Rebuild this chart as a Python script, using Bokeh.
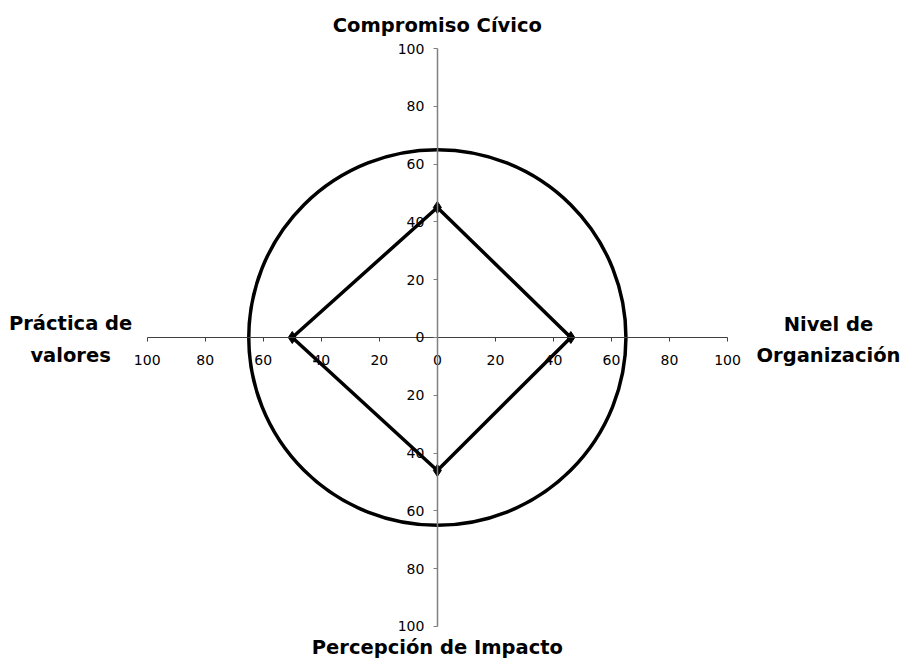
from bokeh.plotting import figure
from bokeh.models import Range1d, LinearAxis, FixedTicker, CustomJSTickFormatter, ColumnDataSource
from bokeh.core.properties import value
from bokeh.embed import file_html
from bokeh.resources import INLINE

# ---- data ----
categories = ["Compromiso Cívico", "Nivel de Organización", "Percepción de Impacto", "Práctica de valores"]
values = [45, 46, 46, 50]
dir_x = [0, 1, 0, -1]
dir_y = [1, 0, -1, 0]
circle_radius = 65
tick_values = [-100, -80, -60, -40, -20, 0, 20, 40, 60, 80, 100]
title_texts = ["Compromiso Cívico", "Nivel de\nOrganización", "Percepción de Impacto", "Práctica de\nvalores"]

px = [v * dx for v, dx in zip(values, dir_x)]
py = [v * dy for v, dy in zip(values, dir_y)]

p = figure(width=901, height=662, output_backend="svg", toolbar_location=None,
           x_range=Range1d(-150.56, 159.97), y_range=Range1d(-112.46, 116.61),
           x_axis_type=None, y_axis_type=None, min_border=0)
p.outline_line_color = None
p.xgrid.visible = False
p.ygrid.visible = False

fmt = CustomJSTickFormatter(code="return Math.abs(tick).toString();")

xax = LinearAxis(fixed_location=0, bounds=(-100, 100), ticker=FixedTicker(ticks=tick_values),
                 formatter=fmt)
xax.axis_line_color = "#404040"
xax.axis_line_width = 1.2
xax.major_tick_line_color = "#404040"
xax.major_tick_in = 0
xax.major_tick_out = 4
xax.minor_tick_line_color = None
xax.major_label_standoff = 14
xax.major_label_text_font = "DejaVu Sans"
xax.major_label_text_font_size = "14px"
xax.major_label_text_color = "black"
p.add_layout(xax, "below")

yax = LinearAxis(fixed_location=0, bounds=(-100, 100), ticker=FixedTicker(ticks=tick_values),
                 formatter=fmt)
yax.axis_line_color = "#808080"
yax.axis_line_width = 1.5
yax.major_tick_line_color = "#808080"
yax.major_tick_in = 0
yax.major_tick_out = 4
yax.minor_tick_line_color = None
yax.major_label_standoff = 9
yax.major_label_text_font = "DejaVu Sans"
yax.major_label_text_font_size = "14px"
yax.major_label_text_color = "black"
p.add_layout(yax, "left")

# reference circle
p.ellipse(x=0, y=0, width=2 * circle_radius, height=2 * circle_radius,
          fill_color=None, line_color="black", line_width=3.5)

# diamond polygon
p.line(x=px + [px[0]], y=py + [py[0]], line_color="black", line_width=3.5)
p.scatter(x=px, y=py, marker="diamond", size=12, fill_color="black", line_color="black")

# axis titles
src = ColumnDataSource(dict(
    x=[0, 134.8, 0, -126.4],
    y=[108, -1, -107.3, -0.7],
    t=title_texts,
))
p.text(x="x", y="y", text="t", source=src, text_align="center", text_baseline="middle",
       text_font=value("DejaVu Sans"), text_font_style="bold", text_font_size="19.5px",
       text_color="black", text_line_height=1.35)

open("out.html", "w").write(file_html(p, INLINE))
